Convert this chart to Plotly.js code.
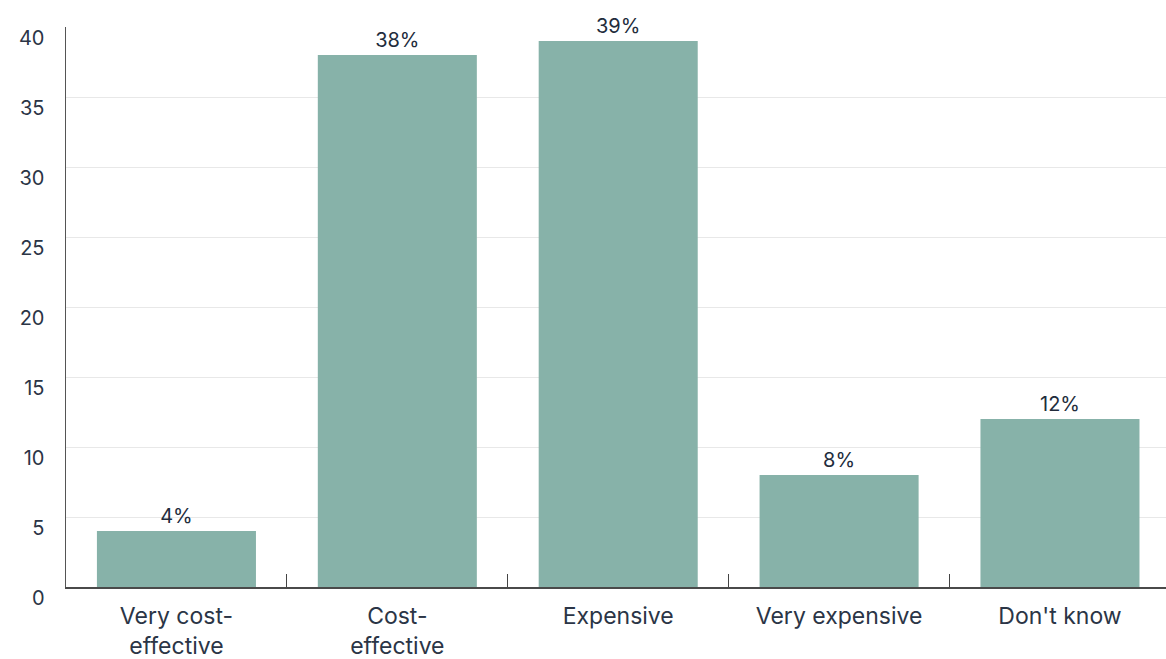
<!DOCTYPE html>
<html>
<head>
<meta charset="utf-8">
<script src="https://cdn.plot.ly/plotly-3.0.1.min.js"></script>
<style>html,body{margin:0;padding:0;background:#fff;}#chart{width:1166px;height:659px;}</style>
</head>
<body>
<div id="chart"></div>
<script>
const categories = ["Very cost-<br>effective", "Cost-<br>effective", "Expensive", "Very expensive", "Don't know"];
const values = [4, 38, 39, 8, 12];
const valueLabels = ["4%", "38%", "39%", "8%", "12%"];
const yTicks = [0, 5, 10, 15, 20, 25, 30, 35, 40];

const textColor = "#2b3546";
const fontFamily = "Inter, 'Open Sans', sans-serif";

const trace = {
  type: "bar",
  x: categories,
  y: values,
  text: valueLabels,
  textposition: "outside",
  textfont: {family: fontFamily, size: 20, color: "#222c3c"},
  cliponaxis: false,
  marker: {color: "#87b2a9"},
  hoverinfo: "none"
};

const layout = {
  width: 1166,
  height: 659,
  margin: {l: 66, r: 0, t: 27, b: 72},
  paper_bgcolor: "#fff",
  plot_bgcolor: "#fff",
  bargap: 0.28,
  showlegend: false,
  font: {family: fontFamily, size: 20, color: textColor},
  xaxis: {
    type: "category",
    range: [-0.5, 4.48],
    showline: true,
    linecolor: "#4a4a4a",
    linewidth: 1.6,
    ticks: "inside",
    tickson: "boundaries",
    ticklen: 13,
    tickcolor: "#444",
    tickwidth: 1.2,
    showgrid: false,
    ticklabelstandoff: 8,
    tickfont: {family: fontFamily, size: 23, color: textColor}
  },
  yaxis: {
    range: [0, 40],
    tickvals: yTicks,
    ticktext: yTicks.map(String),
    showline: true,
    linecolor: "#555",
    linewidth: 1.5,
    showgrid: true,
    gridcolor: "#e8e8e8",
    gridwidth: 1,
    zeroline: false,
    ticks: "",
    ticklabelstandoff: 16,
    ticklabelshift: 11,
    tickfont: {family: fontFamily, size: 20, color: textColor}
  }
};

Plotly.newPlot("chart", [trace], layout, {displayModeBar: false, staticPlot: true});
</script>
</body>
</html>
